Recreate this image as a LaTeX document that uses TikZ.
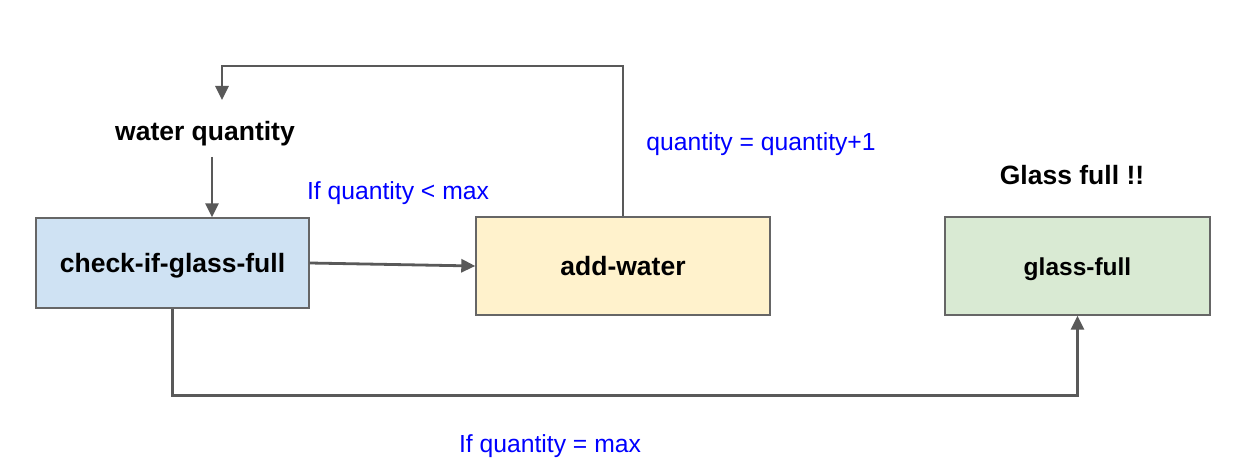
\documentclass[tikz,border=0pt]{standalone}
\usepackage{fontspec}
\setmainfont{Liberation Sans}
\usetikzlibrary{arrows.meta}
\definecolor{linec}{HTML}{595959}
\definecolor{boxborder}{HTML}{666666}
\definecolor{bluefill}{HTML}{CFE2F3}
\definecolor{yellowfill}{HTML}{FFF2CC}
\definecolor{greenfill}{HTML}{D9EAD3}
\definecolor{labelblue}{HTML}{0000FF}
\newcommand{\lowertxt}[2]{\raisebox{-#1}[\height][\depth]{#2}}
\begin{document}
\begin{tikzpicture}[x=1pt,y=-1pt,
  box/.style={draw=boxborder,line width=1.4pt,minimum height=90pt,font=\fontsize{26.5}{30}\selectfont\bfseries,inner sep=0pt},
  conn/.style={draw=linec,line width=2.8pt},
  arr/.style={conn,-{Triangle[length=14pt,width=13pt]}},
  lbl/.style={text=labelblue,font=\fontsize{24.7}{29}\selectfont,inner sep=0pt},
  ttl/.style={font=\fontsize{26.5}{30}\selectfont\bfseries,inner sep=0pt}]
\useasboundingbox (0,0) rectangle (1243,476);
\fill[white] (0,0) rectangle (1243,476);
\node[box,fill=bluefill,minimum width=273pt] (check) at (172.5,263) {\lowertxt{2.5pt}{check-if-glass-full}};
\node[box,fill=yellowfill,minimum width=294pt,minimum height=98pt] (add) at (623,266) {add-water};
\node[box,fill=greenfill,minimum width=265pt,minimum height=98pt,font=\fontsize{24.5}{28}\selectfont\bfseries] (glass) at (1077.5,266) {\lowertxt{3.5pt}{glass-full}};
\node[ttl] (wq) at (205,134) {water quantity};
\node[ttl] (gf) at (1072,175) {Glass full !!};
\node[lbl] (l1) at (398,193) {If quantity < max};
\node[lbl] (l2) at (761,144) {quantity = quantity+1};
\node[lbl] (l3) at (550,446) {If quantity = max};
\coordinate (wqa) at (212,157);
\coordinate (loopend) at (222,100);
\draw[arr] (wqa) -- (wqa |- check.north);
\draw[arr] (check.east) -- (add.west);
\draw[arr] (add.north) |- (loopend |- 0,66) -- (loopend);
\draw[arr] (check.south) -- ++(0,87) -| (glass.south);
\end{tikzpicture}
\end{document}
